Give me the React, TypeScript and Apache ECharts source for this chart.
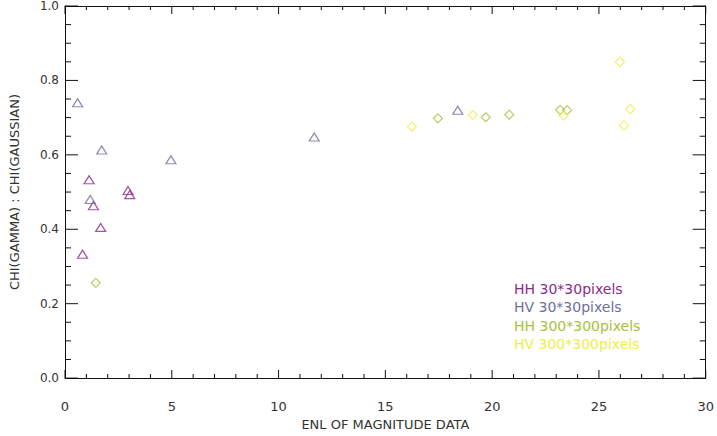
import React, { useEffect, useRef } from "react";
import * as echarts from "echarts";

const seriesNames = ["HH 30*30pixels", "HV 30*30pixels", "HH 300*300pixels", "HV 300*300pixels"];
const seriesColors = ["#8c2a8c", "#6e6e9c", "#a4c23c", "#eeee48"];
const seriesSymbols = ["triangle", "triangle", "diamond", "diamond"];

const hh30: number[][] = [
  [1.13, 0.533], [2.95, 0.504], [3.03, 0.493], [1.33, 0.463], [1.67, 0.405], [0.82, 0.333],
];
const hv30: number[][] = [
  [0.59, 0.74], [1.72, 0.613], [1.18, 0.48], [4.96, 0.587], [11.67, 0.648], [18.39, 0.72],
];
const hh300: number[][] = [
  [1.44, 0.256], [17.46, 0.698], [19.7, 0.701], [20.8, 0.708], [23.18, 0.721], [23.51, 0.72],
];
const hv300: number[][] = [
  [16.24, 0.676], [19.09, 0.707], [23.35, 0.705], [25.98, 0.85], [26.47, 0.723], [26.17, 0.679],
];
const seriesData = [hh30, hv30, hh300, hv300];

const xTitle = "ENL OF MAGNITUDE DATA";
const yTitle = "CHI(GAMMA) : CHI(GAUSSIAN)";

// tick positions
const xMajorTicks = [0, 5, 10, 15, 20, 25, 30];
const xMinorStep = 1;
const yMajorTicks = [0, 0.2, 0.4, 0.6, 0.8, 1.0];
const yMinorStep = 0.05;

function minorTicks(major: number[], step: number): number[] {
  const out: number[] = [];
  for (let i = 0; i < major.length - 1; i++) {
    const n = Math.round((major[i + 1] - major[i]) / step);
    for (let k = 1; k < n; k++) out.push(+(major[i] + k * step).toFixed(4));
  }
  return out;
}

const TICK = "#111";

function tickSeries(data: number[][], w: number, h: number, dx: number, dy: number) {
  return {
    type: "scatter",
    silent: true,
    clip: false,
    xAxisIndex: 0,
    yAxisIndex: 0,
    data,
    symbol: "rect",
    symbolSize: [w, h],
    symbolOffset: [dx, dy],
    itemStyle: { color: TICK, borderWidth: 0, opacity: 1 },
    z: 3,
  };
}

function makeX(pos: string, extra: any) {
  return {
    type: "value",
    position: pos,
    min: 0,
    max: 30,
    interval: 5,
    splitLine: { show: false },
    axisLine: { show: true, onZero: false, lineStyle: { color: TICK, width: 1 } },
    axisTick: { show: false },
    ...extra,
  };
}
function makeY(pos: string, extra: any) {
  return {
    type: "value",
    position: pos,
    min: 0,
    max: 1,
    interval: 0.2,
    splitLine: { show: false },
    axisLine: { show: true, onZero: false, lineStyle: { color: TICK, width: 1 } },
    axisTick: { show: false },
    ...extra,
  };
}

export default function App() {
  const ref = useRef<HTMLDivElement>(null);
  useEffect(() => {
    if (!ref.current) return;
    const chart = echarts.init(ref.current, null, { renderer: "svg" });
    const font = "DejaVu Sans";
    const xMin = minorTicks(xMajorTicks, xMinorStep);
    const yMin = minorTicks(yMajorTicks, yMinorStep);
    chart.setOption({
      animation: false,
      backgroundColor: "#ffffff",
      grid: { left: 62, right: 8, top: 6, bottom: 49, containLabel: false },
      legend: {
        orient: "vertical",
        left: 508,
        top: 282,
        padding: 0,
        itemWidth: 0,
        itemHeight: 0,
        itemGap: 4.3,
        selectedMode: false,
        textStyle: { fontFamily: font, fontSize: 14 },
        data: seriesNames.map((n, i) => ({ name: n, textStyle: { color: seriesColors[i] } })),
      },
      xAxis: [
        makeX("bottom", {
          name: xTitle,
          nameLocation: "middle",
          nameGap: 38,
          nameTextStyle: { color: "#333", fontFamily: font, fontSize: 13 },
          axisLabel: { show: true, color: "#333", fontFamily: font, fontSize: 13, margin: 22 },
        }),
        makeX("top", { axisLabel: { show: false } }),
      ],
      yAxis: [
        makeY("left", {
          name: yTitle,
          nameLocation: "middle",
          nameGap: 44,
          nameTextStyle: { color: "#333", fontFamily: font, fontSize: 13 },
          axisLabel: {
            show: true,
            color: "#333",
            fontFamily: font,
            fontSize: 12,
            margin: 6,
            formatter: (v: number) => v.toFixed(1),
          },
        }),
        makeY("right", { axisLabel: { show: false } }),
      ],
      series: [
        // bottom / top x ticks
        tickSeries(xMajorTicks.map((t) => [t, 0]), 1, 8, 0, -4),
        tickSeries(xMin.map((t) => [t, 0]), 1, 4, 0, -2),
        tickSeries(xMajorTicks.map((t) => [t, 1]), 1, 8, 0, 4),
        tickSeries(xMin.map((t) => [t, 1]), 1, 4, 0, 2),
        // left / right y ticks
        tickSeries(yMajorTicks.map((t) => [0, t]), 13, 1, 6.5, 0),
        tickSeries(yMin.map((t) => [0, t]), 6, 1, 3, 0),
        tickSeries(yMajorTicks.map((t) => [30, t]), 13, 1, -6.5, 0),
        tickSeries(yMin.map((t) => [30, t]), 6, 1, -3, 0),
        ...seriesData.map((d, i) => ({
          type: "scatter",
          name: seriesNames[i],
          data: d,
          xAxisIndex: 0,
          yAxisIndex: 0,
          symbol: seriesSymbols[i],
          symbolSize: seriesSymbols[i] === "triangle" ? [10, 8] : [9, 9],
          itemStyle: { color: "rgba(0,0,0,0)", borderColor: seriesColors[i], borderWidth: 1.2 },
          z: 4,
        })),
      ],
    });
    return () => chart.dispose();
  }, []);
  return <div ref={ref} style={{ position: "fixed", left: 0, top: 0, width: 717, height: 436 }} />;
}
